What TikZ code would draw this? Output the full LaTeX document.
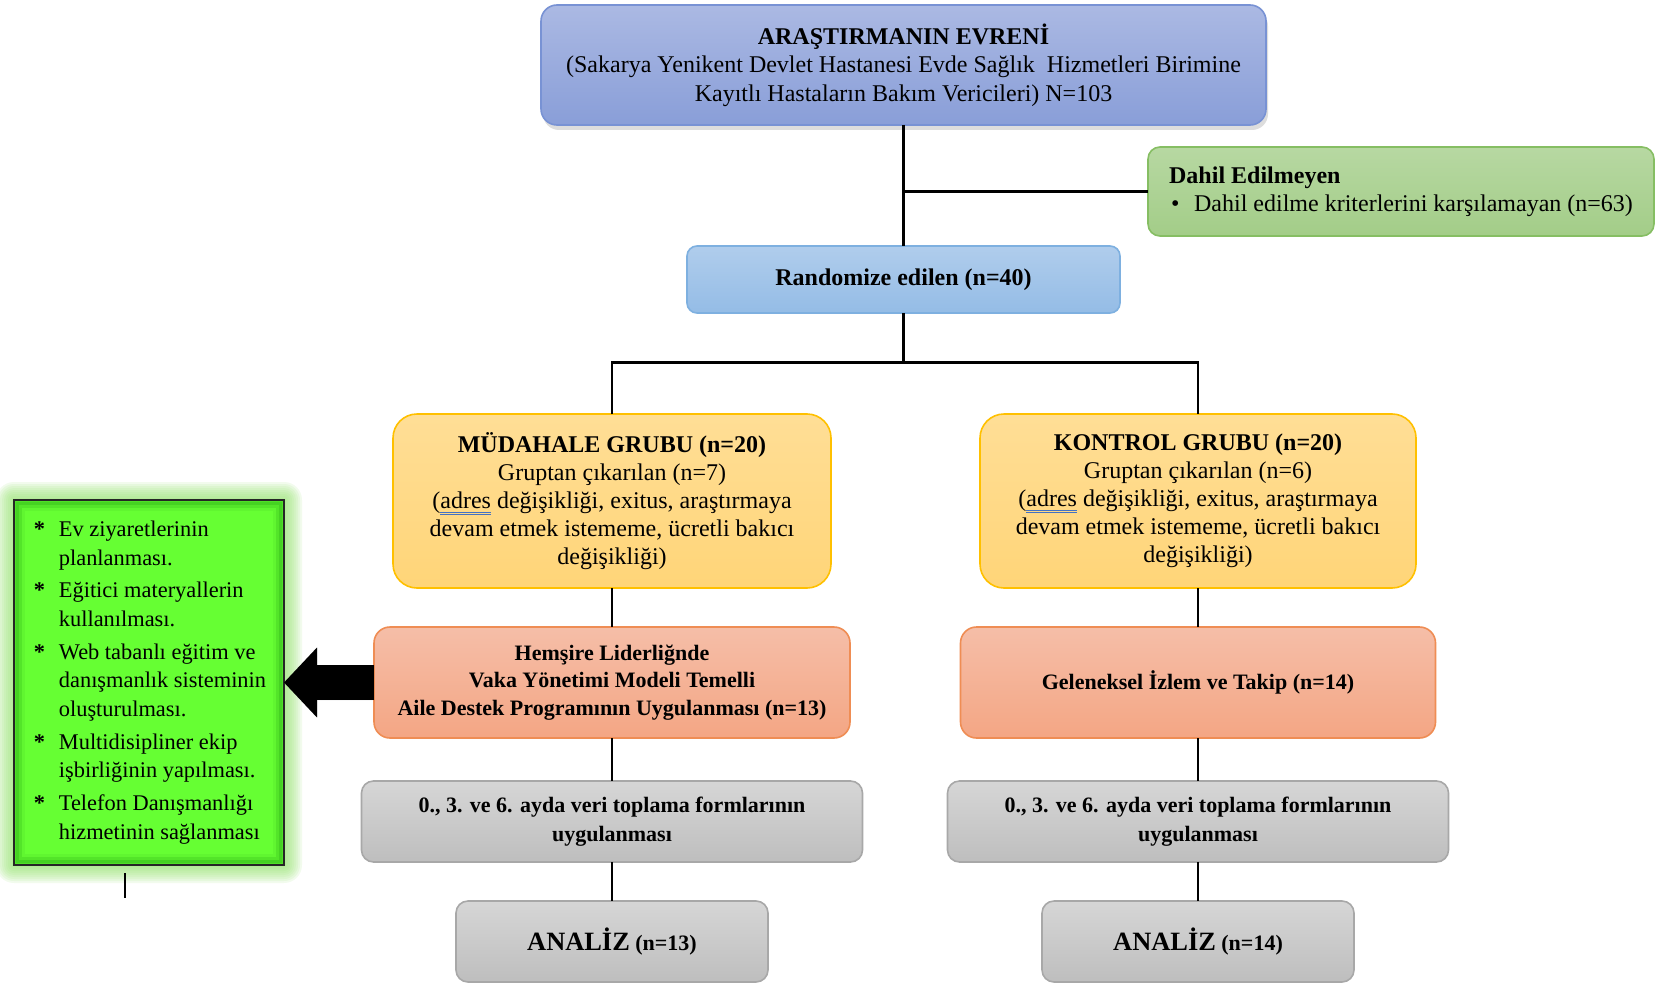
\documentclass[tikz,border=0pt]{standalone}
\usepackage{fontspec}
\setmainfont{Liberation Serif}
\usetikzlibrary{calc,shadows,arrows.meta}
\definecolor{topA}{RGB}{171,185,227}
\definecolor{topB}{RGB}{137,158,216}
\definecolor{topD}{RGB}{120,146,212}
\definecolor{dahA}{RGB}{183,216,162}
\definecolor{dahB}{RGB}{163,205,136}
\definecolor{dahD}{RGB}{134,190,99}
\definecolor{ranA}{RGB}{176,205,236}
\definecolor{ranB}{RGB}{148,188,230}
\definecolor{ranD}{RGB}{126,176,224}
\definecolor{yelA}{RGB}{255,222,150}
\definecolor{yelB}{RGB}{255,213,120}
\definecolor{yelD}{RGB}{255,192,0}
\definecolor{oraA}{RGB}{245,190,168}
\definecolor{oraB}{RGB}{244,166,132}
\definecolor{oraD}{RGB}{239,141,84}
\definecolor{greA}{RGB}{214,214,214}
\definecolor{greB}{RGB}{190,190,190}
\definecolor{greD}{RGB}{168,168,168}
\definecolor{limeF}{RGB}{102,255,51}
\definecolor{glowG}{RGB}{150,230,110}
\definecolor{spellblue}{RGB}{68,114,196}
\newsavebox\spellbox
\newcommand\spellul[1]{\sbox\spellbox{#1}\rlap{\textcolor{spellblue}{\rule[-2.0pt]{\wd\spellbox}{0.45pt}}}\rlap{\textcolor{spellblue}{\rule[-3.2pt]{\wd\spellbox}{0.45pt}}}\usebox\spellbox}
\tikzset{
  basebox/.style={align=center, inner sep=0pt, outer sep=0pt, font=\fontsize{12}{14.2}\selectfont, line width=0.8pt},
  topbox/.style={basebox, rounded corners=8pt, top color=topA, bottom color=topB, draw=topD,
     drop shadow={shadow xshift=1pt, shadow yshift=-2.5pt, opacity=0.22, fill=black!60}},
  dahbox/.style={basebox, rounded corners=6pt, top color=dahA, bottom color=dahB, draw=dahD, align=left},
  ranbox/.style={basebox, rounded corners=5pt, top color=ranA, bottom color=ranB, draw=ranD},
  yelbox/.style={basebox, rounded corners=12pt, top color=yelA, bottom color=yelB, draw=yelD, font=\fontsize{12}{14}\selectfont},
  orabox/.style={basebox, rounded corners=8pt, top color=oraA, bottom color=oraB, draw=oraD, font=\bfseries\fontsize{11}{13.75}\selectfont},
  grebox/.style={basebox, rounded corners=6pt, top color=greA, bottom color=greB, draw=greD, font=\bfseries\fontsize{11}{14.25}\selectfont},
  limebox/.style={basebox, fill=limeF, draw=black!85, line width=1pt, align=left, font=\fontsize{11.2}{14.25}\selectfont},
  conn/.style={line width=1.25pt, black},
  bigarrow/.style={line width=17.5pt, black, -{Triangle[length=16.5pt, width=34pt]}}
}
\begin{document}
\begin{tikzpicture}[x=0.5pt,y=-0.5pt]
\useasboundingbox[fill=white] (0,0) rectangle (1657,984);

% glow of the green box
\foreach \d in {18,16,...,2}{
  \fill[glowG, opacity=0.12, rounded corners=0.5*\d pt] ($(14,500)+(-\d,-\d)$) rectangle ($(284,865)+(\d,\d)$);
}

\node[topbox, minimum width=362.5pt, minimum height=60pt] (top) at (903.5,65)
  {\textbf{ARAŞTIRMANIN EVRENİ}\\(Sakarya Yenikent Devlet Hastanesi Evde Sağlık\ \ Hizmetleri Birimine\\Kayıtlı Hastaların Bakım Vericileri) N=103};

\node[dahbox, minimum width=253pt, minimum height=44.5pt] (dahil) at (1401,191.5)
  {\textbf{Dahil Edilmeyen}\\\makebox[12.5pt][l]{\hspace*{1pt}\textbullet}Dahil edilme kriterlerini karşılamayan (n=63)};

\node[ranbox, minimum width=216.5pt, minimum height=33.5pt] (rand) at (903.5,279.5)
  {\textbf{Randomize edilen (n=40)}};

\node[yelbox, minimum width=219pt, minimum height=87pt] (mud) at (612,501)
  {\textbf{MÜDAHALE GRUBU (n=20)}\\Gruptan çıkarılan (n=7)\\(\spellul{adres} değişikliği, exitus, araştırmaya\\devam etmek istememe, ücretli bakıcı\\değişikliği)};

\node[yelbox, minimum width=218pt, minimum height=87pt] (kon) at (1198,501)
  {\textbf{KONTROL GRUBU (n=20)}\\Gruptan çıkarılan (n=6)\\(\spellul{adres} değişikliği, exitus, araştırmaya\\devam etmek istememe, ücretli bakıcı\\değişikliği)};

\node[orabox, minimum width=238pt, minimum height=55.5pt] (hem) at (612,682.5)
  {Hemşire Liderliğnde\\Vaka Yönetimi Modeli Temelli\\Aile Destek Programının Uygulanması (n=13)};

\node[orabox, minimum width=237.5pt, minimum height=55.5pt] (gel) at (1198,682.5)
  {Geleneksel İzlem ve Takip (n=14)};

\node[grebox, minimum width=250.5pt, minimum height=40.5pt] (veri1) at (612,821.5)
  {0., 3. ve 6. ayda veri toplama formlarının\\uygulanması};
\node[grebox, minimum width=250.5pt, minimum height=40.5pt] (veri2) at (1198,821.5)
  {0., 3. ve 6. ayda veri toplama formlarının\\uygulanması};

\node[grebox, minimum width=156pt, minimum height=40.5pt] (an1) at (612,941.5)
  {{\fontsize{13.2}{15}\selectfont ANALİZ} (n=13)};
\node[grebox, minimum width=156pt, minimum height=40.5pt] (an2) at (1198,941.5)
  {{\fontsize{13.2}{15}\selectfont ANALİZ} (n=14)};

\node[limebox, minimum width=135pt, minimum height=182.5pt] (green) at (149,682.5)
  {\makebox[13.5pt][l]{\hspace*{1pt}\textbf{*}}Ev ziyaretlerinin\\\hspace*{13.5pt}planlanması.\\[2.2pt]
   \makebox[13.5pt][l]{\hspace*{1pt}\textbf{*}}Eğitici materyallerin\\\hspace*{13.5pt}kullanılması.\\[2.2pt]
   \makebox[13.5pt][l]{\hspace*{1pt}\textbf{*}}Web tabanlı eğitim ve\\\hspace*{13.5pt}danışmanlık sisteminin\\\hspace*{13.5pt}oluşturulması.\\[2.2pt]
   \makebox[13.5pt][l]{\hspace*{1pt}\textbf{*}}Multidisipliner ekip\\\hspace*{13.5pt}işbirliğinin yapılması.\\[2.2pt]
   \makebox[13.5pt][l]{\hspace*{1pt}\textbf{*}}Telefon Danışmanlığı\\\hspace*{13.5pt}hizmetinin sağlanması};
% inner darkening of the green box
\foreach \i/\o in {2/0.22,5/0.12,8/0.06}{
  \draw[green!45!black, opacity=\o, line width=3pt] ($(green.north west)+(\i,\i)$) rectangle ($(green.south east)+(-\i,-\i)$);
}
\draw[black!85, line width=1pt] (green.north west) rectangle (green.south east);

% connectors
\coordinate (split) at (rand.south |- 0,362.5);
\draw[conn] (top.south) -- (rand.north);
\draw[conn] (top.south |- dahil.west) -- (dahil.west);
\draw[conn] (rand.south) -- (split);
\draw[conn] (mud.north) |- (split) -| (kon.north);
\draw[conn] (mud.south) -- (hem.north);
\draw[conn] (kon.south) -- (gel.north);
\draw[conn] (hem.south) -- (veri1.north);
\draw[conn] (gel.south) -- (veri2.north);
\draw[conn] (veri1.south) -- (an1.north);
\draw[conn] (veri2.south) -- (an2.north);

% big arrow to the green box
\begin{scope}[transparency group, opacity=0.3]
\draw[bigarrow, black!70, shift={(3,4)}] (hem.west) -- (green.east);
\end{scope}
\draw[bigarrow] (hem.west) -- (green.east);

% stray cursor mark
\coordinate (cura) at (125,873);
\coordinate (curb) at (125,898);
\draw[line width=0.7pt] (cura) -- (curb);
\end{tikzpicture}
\end{document}
